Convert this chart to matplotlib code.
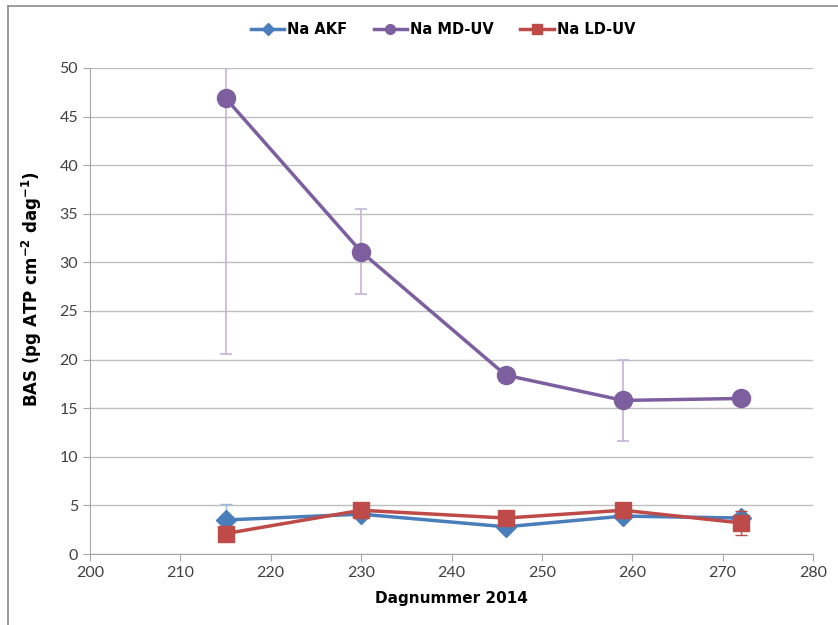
import matplotlib.pyplot as plt
from matplotlib.lines import Line2D

# dagnummer (day of year) og BAS-verdier
dager = [215, 230, 246, 259, 272]
na_akf = [3.5, 4.1, 2.8, 3.9, 3.7]
na_md_uv = [46.9, 31.1, 18.4, 15.8, 16.0]
na_ld_uv = [2.1, 4.5, 3.7, 4.5, 3.2]

# standardavvik
akf_err = [1.6, 0, 0, 0, 0]
md_err = [26.3, 4.4, 0, 4.2, 0]
ld_err = [0, 0, 0, 0, 1.2]

blue = '#4a7ebb'
purple = '#7d5fa0'
red = '#be4b48'
grid = '#bfbfbf'

plt.rcParams['font.family'] = ['Lato', 'DejaVu Sans']
bold = ['DejaVu Sans']

fig = plt.figure(figsize=(8.38, 6.25), dpi=100)
ax = fig.add_axes([90 / 838, 1 - 554 / 625, (813 - 90) / 838, (554 - 68) / 625])

ax.errorbar(dager, na_akf, yerr=akf_err, color=blue, lw=2.5, marker='D', ms=10,
            ecolor='#9db8db', elinewidth=1, capsize=4, capthick=1, zorder=3)
ax.errorbar(dager, na_md_uv, yerr=md_err, color=purple, lw=2.5, marker='o', ms=13,
            ecolor='#c3b4d6', elinewidth=1.2, capsize=4, capthick=1.2, zorder=3)
ax.errorbar(dager, na_ld_uv, yerr=ld_err, color=red, lw=2.5, marker='s', ms=11,
            ecolor=red, elinewidth=1, capsize=4, capthick=1, zorder=4)

ax.set_xlim(200, 280)
ax.set_ylim(0, 50)
ax.set_xticks(range(200, 281, 10))
ax.set_yticks(range(0, 51, 5))
ax.yaxis.grid(True, color=grid, lw=1)
ax.set_axisbelow(True)
for s in ['top', 'right']:
    ax.spines[s].set_visible(False)
for s in ['left', 'bottom']:
    ax.spines[s].set_color('#a6a6a6')
ax.tick_params(colors='#a6a6a6', labelcolor='#404040', labelsize=11.5, length=5)

ax.set_xlabel('Dagnummer 2014', fontsize=11, fontweight='bold', family=bold, labelpad=8)
ax.set_ylabel('BAS (pg ATP cm$^{\\mathbf{-2}}$ dag$^{\\mathbf{-1}}$)', fontsize=12,
              fontweight='bold', family=bold)
ax.yaxis.set_label_coords(-0.064, 0.545)

handles = [
    Line2D([], [], color=blue, lw=2.5, marker='D', ms=6),
    Line2D([], [], color=purple, lw=2.5, marker='o', ms=7),
    Line2D([], [], color=red, lw=2.5, marker='s', ms=7),
]
fig.legend(handles, ['Na AKF', 'Na MD-UV', 'Na LD-UV'], loc='center',
           bbox_to_anchor=(443 / 838, 1 - 30 / 625), ncol=3, frameon=False,
           prop={'weight': 'bold', 'size': 10.5, 'family': bold}, handlelength=2.3,
           handletextpad=0.2, columnspacing=1.8)

# ramme rundt diagrammet
fig.add_artist(Line2D([8 / 838, 8 / 838], [0, 1 - 6 / 625], color='#8c8c8c', lw=1.2,
                      transform=fig.transFigure))
fig.add_artist(Line2D([8 / 838, 1], [1 - 6 / 625, 1 - 6 / 625], color='#8c8c8c', lw=1.2,
                      transform=fig.transFigure))

fig.savefig('out.png', dpi=100)
